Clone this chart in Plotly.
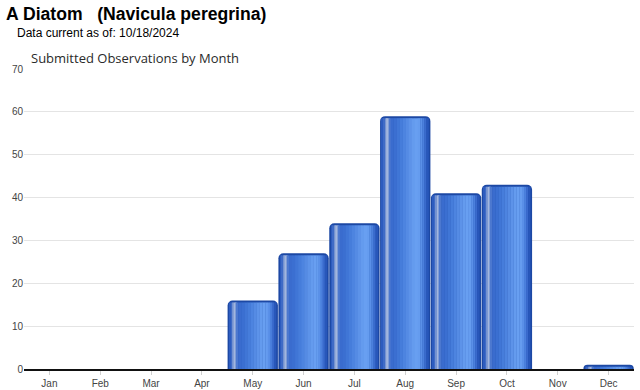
import plotly.graph_objects as go

months = ["Jan", "Feb", "Mar", "Apr", "May", "Jun", "Jul", "Aug", "Sep", "Oct", "Nov", "Dec"]
observations = [0, 0, 0, 0, 16, 27, 34, 59, 41, 43, 0, 1]
y_ticks = [0, 10, 20, 30, 40, 50, 60, 70]

title_text = "A Diatom   (Navicula peregrina)"
subtitle_text = "Data current as of: 10/18/2024"
chart_title = "Submitted Observations by Month"

W, H = 640, 390
L, R, T, B = 24, 6, 69, 21
PW, PH = W - L - R, H - T - B

bar_w = 0.99
border_color = "#1c48a4"
# glossy stripes: (start fraction, end fraction, colour)
stripes = [
    (0.035, 0.07, "#2d5cbf"),
    (0.07, 0.10, "#3f6bc6"),
    (0.10, 0.12, "#7492d0"),
    (0.12, 0.16, "#a2b6de"),
    (0.16, 0.18, "#7f9cd6"),
    (0.18, 0.21, "#4c78cf"),
    (0.21, 0.27, "#3a6cce"),
    (0.27, 0.33, "#3b6fd1"),
    (0.33, 0.39, "#4076d6"),
    (0.39, 0.45, "#467ddb"),
    (0.45, 0.51, "#4d84e0"),
    (0.51, 0.57, "#558be4"),
    (0.57, 0.63, "#5d93e9"),
    (0.63, 0.69, "#649bee"),
    (0.69, 0.75, "#689ff1"),
    (0.75, 0.80, "#659cef"),
    (0.80, 0.84, "#5a90e8"),
    (0.84, 0.88, "#4b80dd"),
    (0.88, 0.92, "#3a6bcd"),
    (0.92, 0.965, "#2857ba"),
]

units_per_px = 70 / PH
inset = 2 * units_per_px

fig = go.Figure()
fig.add_trace(go.Bar(
    x=months, y=observations, width=bar_w,
    marker=dict(color=border_color, cornerradius=5, line=dict(width=0)),
    hoverinfo="x+y", showlegend=False,
))
inner = [max(v - inset, 0) for v in observations]
for s, e, c in stripes:
    fig.add_trace(go.Bar(
        x=months, y=inner, width=(e - s) * bar_w + 0.004, offset=-bar_w / 2 + s * bar_w,
        marker=dict(color=c, line=dict(width=0)),
        hoverinfo="skip", showlegend=False,
    ))

def px_x(p):
    return (p - L) / PW

def px_y(p):
    return 1 - (p - T) / PH

fig.update_layout(
    width=W, height=H,
    margin=dict(l=L, r=R, t=T, b=B, autoexpand=False),
    barmode="overlay",
    plot_bgcolor="white", paper_bgcolor="white",
    font=dict(family="Liberation Sans, Arial, sans-serif", color="#444", size=10),
    xaxis=dict(
        range=[-0.5, 11.5], showgrid=False, showline=True, linecolor="#111", linewidth=1.5,
        ticks="outside", ticklen=4, tickcolor="#d0d0d0", tickfont=dict(size=10, color="#444"),
        fixedrange=True, automargin=False,
    ),
    yaxis=dict(
        range=[0, 70], tickvals=y_ticks, showgrid=True, gridcolor="#e4e4e4", gridwidth=1,
        zeroline=False, showline=False, ticks="", tickfont=dict(size=10, color="#444"),
        fixedrange=True, automargin=False,
    ),
    annotations=[
        dict(text="<b>" + title_text + "</b>", xref="paper", yref="paper",
             x=px_x(4), y=px_y(2), xanchor="left", yanchor="top", showarrow=False,
             font=dict(family="Liberation Sans, Arial, sans-serif", size=17.6, color="#000")),
        dict(text=subtitle_text, xref="paper", yref="paper",
             x=px_x(15), y=px_y(24), xanchor="left", yanchor="top", showarrow=False,
             font=dict(family="Liberation Sans, Arial, sans-serif", size=12, color="#000")),
        dict(text=chart_title, xref="paper", yref="paper",
             x=px_x(29), y=px_y(47), xanchor="left", yanchor="top", showarrow=False,
             font=dict(family="Open Sans, sans-serif", size=13, color="#2a2a2a")),
    ],
)

fig.write_html(
    "out.html",
    config={"displayModeBar": False},
    post_script="document.body.style.margin='0';document.body.style.overflow='hidden';",
)
